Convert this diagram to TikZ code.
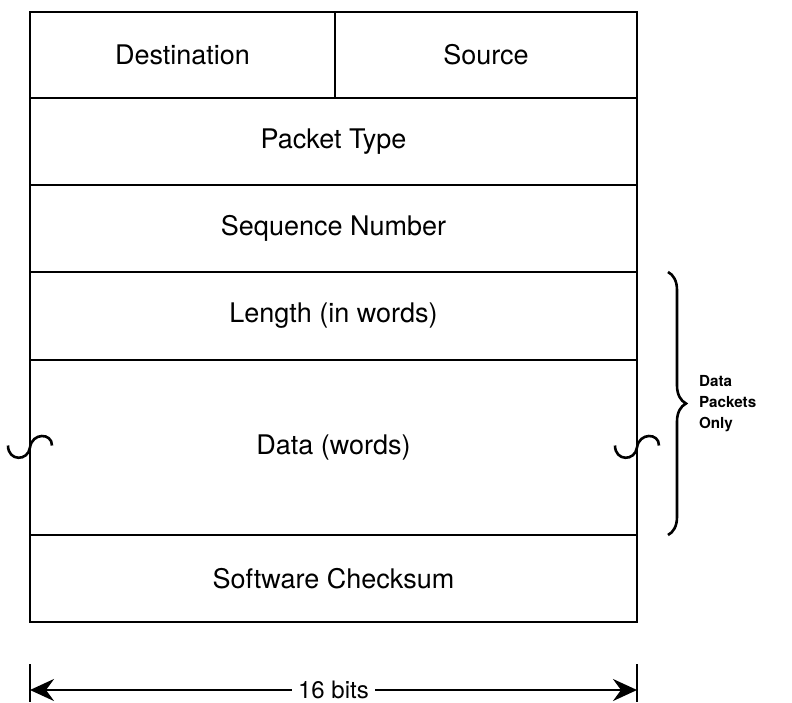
\documentclass[tikz,border=0pt]{standalone}
\usepackage{fontspec}
\setmainfont{TeX Gyre Heros}
\usetikzlibrary{positioning,calc,arrows.meta,decorations.pathreplacing}
\tikzset{field/.style={draw,line width=1.2pt,inner sep=0pt,outer sep=0pt,
                       minimum height=43.5pt,font=\fontsize{13.5}{16}\selectfont},
         wide/.style={field,minimum width=303.5pt,anchor=north west},
         brk/.style={line width=1.3pt},
         dim/.style={line width=1.3pt,-{Stealth[length=12pt,width=11pt,inset=4pt]}}}

\begin{document}
\begin{tikzpicture}[x=0.5pt,y=-0.5pt]
\useasboundingbox (0,0) rectangle (792,702);
% packet fields
\node[field,minimum width=152.5pt,minimum height=43pt,anchor=north west] (dst) at (30,12) {Destination};
\node[field,minimum width=151pt,minimum height=43pt,anchor=north west] (src) at (dst.north east) {Source};
\node[wide] (ptype) at (dst.south west) {Packet Type};
\node[wide] (seq) at (ptype.south west) {Sequence Number};
\node[wide,minimum height=44pt] (len) at (seq.south west) {Length (in words)};
\node[wide,minimum height=87.5pt] (data) at (len.south west) {Data (words)};
\node[wide] (ck) at (data.south west) {Software Checksum};
% break marks
\draw[brk,shift={(data.west)}] (-22,-2) .. controls (-22,14) and (-2,14) .. (0,0)
      .. controls (2,-15) and (22,-15) .. (22,-2);
\draw[brk,shift={(data.east)}] (-22,-2) .. controls (-22,14) and (-2,14) .. (0,0)
      .. controls (2,-15) and (22,-15) .. (22,-2);
% brace
\draw[line width=1.3pt,decorate,decoration={brace,amplitude=9pt}]
  ([xshift=15.5pt]len.north east) -- ([xshift=15.5pt]data.south east)
  coordinate[midway,xshift=9pt] (tip);
\node[anchor=west,align=left,font=\fontsize{7.6}{10.5}\selectfont\bfseries] (only)
  at ([xshift=3pt]tip) {Data\\Packets\\Only};
% width
\coordinate (bl) at ([yshift=-34pt]ck.south west);
\coordinate (br) at ([yshift=-34pt]ck.south east);
\node[fill=white,inner sep=3pt,font=\fontsize{12}{14}\selectfont] (bits) at ($(bl)!0.5!(br)$) {16 bits};
\draw[line width=1.3pt] ([yshift=13pt]bl) -- ([yshift=-6pt]bl);
\draw[line width=1.3pt] ([yshift=13pt]br) -- ([yshift=-6pt]br);
\draw[dim] (bits.west) -- (bl);
\draw[dim] (bits.east) -- (br);
\end{tikzpicture}
\end{document}
